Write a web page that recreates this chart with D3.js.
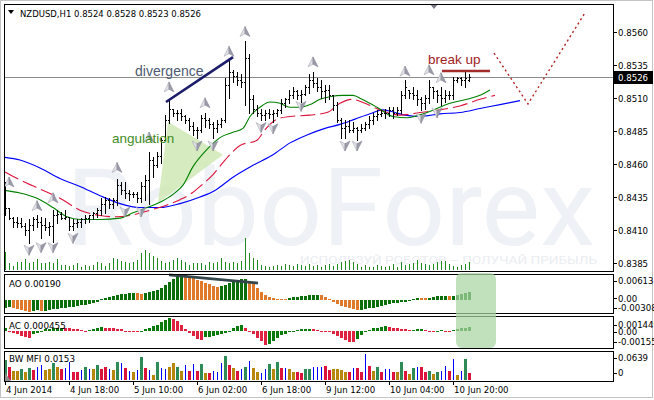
<!DOCTYPE html>
<html><head><meta charset="utf-8">
<script src="https://cdn.jsdelivr.net/npm/d3@7"></script>
<style>body{margin:0;background:#fff}svg{display:block}</style>
</head><body><svg id="chart" width="654" height="400"></svg>
<script>
// ---------------- DATA ----------------
const symbolTitle = "NZDUSD,H1  0.8524 0.8528 0.8523 0.8526";
const lastPrice = 0.8526;
const priceTicks = [0.8560,0.8535,0.8510,0.8485,0.8460,0.8435,0.8410,0.8385];
const timeLabels = ["4 Jun 2014","4 Jun 18:00","5 Jun 10:00","6 Jun 02:00","6 Jun 18:00","9 Jun 12:00","10 Jun 04:00","10 Jun 20:00"];
const timeLabelBars = [0,16,32,48,64,80,96,112];

const opens = [.8440,.8427,.8419,.8416,.8415,.8413,.8410,.8414,.8418,.8416,
 .8414,.8412,.8413,.8421,.8422,.8419,.8420,.8413,.8415,.8416,
 .8418,.8419,.8421,.8423,.8425,.8430,.8433,.8430,.8433,.8444,
 .8440,.8438,.8437,.8437,.8434,.8443,.8448,.8463,.8459,.8466,
 .8478,.8493,.8502,.8499,.8499,.8496,.8493,.8489,.8486,.8486,
 .8495,.8493,.8490,.8487,.8490,.8493,.8520,.8530,.8527,.8524,
 .8522,.8540,.8509,.8502,.8499,.8497,.8499,.8498,.8499,.8501,
 .8506,.8509,.8512,.8515,.8512,.8513,.8518,.8524,.8521,.8518,
 .8515,.8516,.8512,.8505,.8493,.8487,.8489,.8486,.8487,.8486,
 .8487,.8490,.8493,.8496,.8498,.8499,.8499,.8501,.8499,.8501,
 .8512,.8516,.8514,.8512,.8509,.8506,.8510,.8518,.8515,.8512,
 .8510,.8512,.8512,.8524,.8525,.8524,.8524];
const highs = [.8446,.8427,.8420,.8420,.8419,.8415,.8418,.8420,.8421,.8420,
 .8419,.8416,.8425,.8425,.8424,.8425,.8420,.8418,.8418,.8419,
 .8421,.8421,.8424,.8427,.8434,.8435,.8434,.8434,.8449,.8446,
 .8446,.8440,.8439,.8439,.8446,.8452,.8469,.8465,.8469,.8480,
 .8497,.8509,.8502,.8501,.8502,.8497,.8495,.8492,.8488,.8497,
 .8499,.8495,.8492,.8493,.8495,.8525,.8540,.8531,.8530,.8528,
 .8553,.8543,.8512,.8505,.8502,.8501,.8502,.8501,.8502,.8509,
 .8510,.8516,.8518,.8516,.8516,.8520,.8528,.8530,.8525,.8524,
 .8520,.8520,.8512,.8507,.8495,.8493,.8493,.8492,.8488,.8490,
 .8492,.8496,.8499,.8501,.8501,.8502,.8503,.8503,.8503,.8515,
 .8524,.8516,.8518,.8516,.8511,.8512,.8524,.8518,.8516,.8518,
 .8516,.8515,.8526,.8526,.8526,.8531,.8528];
const lows = [.8421,.8418,.8412,.8412,.8412,.8406,.8400,.8410,.8412,.8404,
 .8410,.8406,.8401,.8415,.8418,.8418,.8410,.8410,.8412,.8412,
 .8415,.8416,.8418,.8420,.8421,.8423,.8427,.8427,.8429,.8437,
 .8434,.8433,.8435,.8431,.8431,.8433,.8430,.8450,.8458,.8461,
 .8478,.8491,.8496,.8493,.8493,.8491,.8486,.8482,.8480,.8484,
 .8488,.8487,.8480,.8484,.8488,.8492,.8510,.8522,.8520,.8518,
 .8505,.8499,.8499,.8496,.8493,.8493,.8495,.8492,.8496,.8499,
 .8503,.8506,.8510,.8509,.8507,.8512,.8514,.8518,.8515,.8510,
 .8507,.8509,.8501,.8492,.8480,.8480,.8484,.8484,.8478,.8484,
 .8486,.8487,.8490,.8493,.8496,.8495,.8496,.8495,.8497,.8499,
 .8510,.8510,.8509,.8505,.8501,.8502,.8506,.8510,.8507,.8505,
 .8507,.8509,.8509,.8522,.8520,.8518,.8523];
const closes = [.8427,.8419,.8416,.8415,.8413,.8410,.8414,.8418,.8416,.8414,
 .8412,.8413,.8421,.8422,.8419,.8420,.8413,.8415,.8416,.8418,
 .8419,.8421,.8423,.8425,.8430,.8433,.8430,.8433,.8444,.8440,
 .8438,.8437,.8437,.8434,.8443,.8448,.8463,.8459,.8466,.8478,
 .8493,.8502,.8499,.8499,.8496,.8493,.8489,.8486,.8486,.8495,
 .8493,.8490,.8487,.8490,.8493,.8520,.8530,.8527,.8524,.8522,
 .8540,.8509,.8502,.8499,.8497,.8499,.8498,.8499,.8501,.8506,
 .8509,.8512,.8515,.8512,.8513,.8518,.8524,.8521,.8518,.8515,
 .8516,.8512,.8505,.8493,.8487,.8489,.8486,.8487,.8486,.8487,
 .8490,.8493,.8496,.8498,.8499,.8499,.8501,.8499,.8501,.8512,
 .8518,.8514,.8512,.8509,.8506,.8510,.8518,.8515,.8512,.8510,
 .8512,.8512,.8524,.8525,.8524,.8525,.8526];
const volumes = [1800,700,400,800,800,1100,700,800,1100,700,
 700,800,700,1100,500,500,400,500,700,300,
 500,400,500,800,700,400,700,1200,1100,900,
 800,700,800,1000,1700,2000,1700,1400,1200,900,
 700,800,1000,1200,1000,800,500,700,700,700,
 500,800,700,800,1200,800,700,800,700,900,
 3200,1700,1200,1000,500,400,300,400,500,400,
 600,500,400,600,500,400,600,400,500,300,
 500,600,400,600,800,900,1000,800,600,300,
 500,300,300,500,400,300,400,600,300,800,
 500,600,700,1000,700,600,500,600,800,900,
 900,600,400,300,500,600,800];

// Alligator lines: [bar index, price]
const jawBlue = [[0,.8465],[3.75,.8463],[8.75,.8457],[13.75,.8449],[18.75,.8443],[23.75,.8436],[28.75,.8430],[33.75,.8427],[38.75,.8427],[43.75,.8430],[48.75,.8435],[52.5,.8440],[57,.8450],[62,.8459],[67,.8467],[71.25,.8476],[75.5,.8482],[80,.8487],[83.75,.8490],[87.5,.8494],[91.25,.8498],[94.5,.8501],[97.5,.8499],[100,.8497],[103.75,.8496],[108.75,.8498],[113.75,.8499],[118.75,.8502],[123.75,.8505],[128.75,.8508]];
const teethRed = [[0,.8454],[3.75,.8448],[8.75,.8441],[13.75,.8434],[18.75,.8425],[23.75,.8421],[27.5,.8420],[31.25,.8421],[36.25,.8425],[40.5,.8429],[43.75,.8433],[46.25,.8437],[48.75,.8443],[52,.8452],[55,.8463],[58.75,.8474],[63,.8478],[65,.8486],[68,.8494],[71.25,.8496],[76.25,.8497],[80.5,.8499],[83.75,.8506],[86.75,.8509],[90,.8506],[93.75,.8501],[98.75,.8497],[103.75,.8499],[108.75,.8501],[113.75,.8504],[118.75,.8509],[122.5,.8512]];
const lipsGreen = [[0,.8440],[3.75,.8438],[8,.8434],[12,.8427],[15.5,.8420],[18.75,.8418],[23.75,.8418],[28.75,.8419],[32,.8423],[35.5,.8427],[38.75,.8431],[42,.8437],[44.5,.8444],[47,.8458],[50.5,.8471],[53.75,.8480],[57,.8484],[59.5,.8487],[61.25,.8496],[63.75,.8503],[66.25,.8507],[68.75,.8506],[71.25,.8503],[73.75,.8503],[76.25,.8505],[78.75,.8509],[81.25,.8511],[84.5,.8512],[87,.8512],[89.25,.8509],[93,.8503],[97,.8496],[100.5,.8495],[105.5,.8499],[111.25,.8506],[115.5,.8509],[118.75,.8512],[121.25,.8516]];

// Fractals: [bar index, icon price]
const fractalsUp = [[1,.8446],[8,.8428],[12,.8434],[28,.8457],[36,.8480],[41,.8518],[50,.8506],[56,.8545],[60,.8560],[77,.8537],[100,.8530],[106,.8531],[109,.8525]];
const fractalsDown = [[6,.8395],[9,.8397],[12,.8397],[17,.8404],[30,.8424],[34,.8424],[48,.8474],[52,.8474],[64,.8488],[67,.8487],[74,.8504],[85,.8474],[88,.8474],[104,.8495],[108,.8499]];

// Awesome Oscillator, Accelerator, BW MFI
const ao = [-0.00189,-0.00177,-0.00189,-0.00212,-0.00236,-0.00260,-0.00295,-0.00260,-0.00248,-0.00260,
 -0.00255,-0.00236,-0.00224,-0.00212,-0.00201,-0.00189,-0.00177,-0.00165,-0.00142,-0.00130,
 -0.00118,-0.00094,-0.00071,-0.00047,0.00024,0.00047,0.00071,0.00094,0.00118,0.00130,
 0.00142,0.00153,0.00165,0.00153,0.00142,0.00165,0.00189,0.00212,0.00236,0.00283,
 0.00354,0.00425,0.00496,0.00566,0.00602,0.00578,0.00543,0.00507,0.00472,0.00437,
 0.00401,0.00366,0.00330,0.00307,0.00330,0.00354,0.00389,0.00425,0.00460,0.00484,
 0.00496,0.00448,0.00378,0.00283,0.00189,0.00106,0.00059,0.00035,0.00028,0.00024,
 0.00019,0.00035,0.00059,0.00071,0.00083,0.00094,0.00106,0.00118,0.00123,0.00106,
 0.00071,0.00024,-0.00047,-0.00094,-0.00142,-0.00177,-0.00201,-0.00224,-0.00236,-0.00231,
 -0.00212,-0.00201,-0.00189,-0.00165,-0.00142,-0.00118,-0.00094,-0.00083,-0.00071,-0.00059,
 -0.00047,-0.00024,0.00024,0.00047,0.00042,0.00035,0.00047,0.00071,0.00083,0.00094,
 0.00101,0.00083,0.00094,0.00118,0.00142,0.00165,0.00190];
const ac = [0.00037,-0.00009,-0.00019,-0.00028,-0.00047,-0.00056,-0.00061,-0.00028,-0.00014,0.00009,
 0.00019,0.00023,0.00028,0.00033,0.00037,0.00033,0.00028,0.00023,0.00019,0.00014,
 0.00009,0.00014,0.00023,0.00033,0.00042,0.00037,0.00033,0.00028,0.00023,0.00019,
 0.00009,0.00005,-0.00005,-0.00009,0.00005,0.00019,0.00028,0.00047,0.00065,0.00084,
 0.00103,0.00122,0.00117,0.00094,0.00056,0.00019,-0.00014,-0.00047,-0.00075,-0.00084,
 -0.00056,-0.00051,-0.00042,-0.00037,-0.00028,-0.00019,0.00009,0.00028,0.00047,0.00056,
 0.00037,0.00009,-0.00028,-0.00065,-0.00094,-0.00131,-0.00122,-0.00094,-0.00065,-0.00037,
 -0.00023,-0.00009,0.00009,0.00014,0.00019,0.00021,0.00022,0.00019,0.00014,0.00007,
 -0.00005,-0.00009,-0.00023,-0.00042,-0.00065,-0.00084,-0.00098,-0.00101,-0.00075,-0.00037,
 -0.00009,0.00014,0.00028,0.00037,0.00042,0.00047,0.00042,0.00037,0.00028,0.00023,
 0.00019,0.00014,0.00017,0.00019,0.00021,0.00014,0.00007,0.00005,0.00009,0.00014,
 0.00009,-0.00005,0.00014,0.00023,0.00030,0.00037,0.000455];
const mfi = [0.0467,0.0295,0.0197,0.0197,0.0246,0.0172,0.0271,0.0221,0.0295,0.0344,
 0.0221,0.0246,0.0394,0.0295,0.0246,0.0271,0.0418,0.0172,0.0172,0.0221,
 0.0295,0.0246,0.0246,0.0344,0.0246,0.0295,0.0246,0.0221,0.0418,0.0394,
 0.0271,0.0197,0.0172,0.0221,0.0541,0.0271,0.0221,0.0098,0.0418,0.0271,
 0.0246,0.0295,0.0394,0.0295,0.0197,0.0344,0.0197,0.0369,0.0197,0.0369,
 0.0148,0.0148,0.0197,0.0172,0.0394,0.0566,0.0344,0.0271,0.0197,0.0246,
 0.0295,0.0443,0.0271,0.0172,0.0148,0.0246,0.0369,0.0246,0.0418,0.0271,
 0.0271,0.0246,0.0172,0.0172,0.0148,0.0246,0.0246,0.0295,0.0295,0.0295,
 0.0320,0.0221,0.0246,0.0246,0.0221,0.0172,0.0172,0.0271,0.0271,0.0172,
 0.0615,0.0320,0.0197,0.0295,0.0172,0.0246,0.0246,0.0172,0.0172,0.0418,
 0.0197,0.0123,0.0271,0.0295,0.0295,0.0172,0.0197,0.0123,0.0172,0.0197,
 0.0320,0.0197,0.0492,0.0098,0.0197,0.0492,0.0153];
// BW MFI zone of each bar: G green, F fade, K fake, S squat
const mfiZone = "GSFFGFGSKKFFGFSKKSSKGKFGSSKFGKSKFKGSKFGKKFFGFKSKSGFSKKKGSFSKGKFFKKGFGSKFFSSGGKKKSSFFFFSKSSKSFGSKKSFGSFGKSSGFGKKSKFKGS";

// Annotations (bar index, price)
const divergenceLine = [[40.25,.8507],[57,.8541]];
const angulationArea = [[40.75,.8492],[54.5,.8467],[38.25,.84305]];
const breakUpLine = [[109.25,.85305],[121.25,.85305]];
const forecastPath = [[122.25,.8544],[130.75,.85055],[145,.85745]];
const aoDivergence = [[41,0.0059],[63.25,0.0040]];
const highlightBars = [112.75,122.75];

// ---------------- DRAW ----------------
const svg = d3.select("#chart");
const X0 = 4, X1 = 613;
const MAIN = [4,271], AOP = [274,313], ACP = [316,348], MFIP = [351,381];
const FONT = "DejaVu Sans, sans-serif";
const ARIAL = "Liberation Sans, Arial, sans-serif";

const x = d3.scaleLinear().domain([0,116]).range([5,469]);
const y = d3.scaleLinear().domain([0.8385,0.8560]).range([263,32]);
const yAO = d3.scaleLinear().domain([-0.00308,0.00613]).range([313,274]);
const yAC = d3.scaleLinear().domain([-0.00155,0.001449]).range([348,316]);
const yMFI = d3.scaleLinear().domain([0,0.0639]).range([379,353]);
const yVol = d3.scaleLinear().domain([0,3500]).range([270,235]);
const px = v => Math.round(v) + 0.5;

svg.append("rect").attr("x",0).attr("y",0).attr("width",654).attr("height",400).attr("fill","#fff");
svg.append("rect").attr("x",0.5).attr("y",0.5).attr("width",652).attr("height",397).attr("fill","none").attr("stroke","#c4c4c4");

const defs = svg.append("defs");
defs.append("clipPath").attr("id","mclip").append("rect").attr("x",X0).attr("y",MAIN[0]).attr("width",X1-X0).attr("height",MAIN[1]-MAIN[0]);

const main = svg.append("g").attr("clip-path","url(#mclip)");
// watermark
main.append("text").attr("x",66).attr("y",245).attr("font-family","Roboto, "+ARIAL).attr("font-size",107)
  .attr("fill","#eef1f5").attr("textLength",529).attr("lengthAdjust","spacingAndGlyphs").text("RoboForex");
main.append("text").attr("x",300).attr("y",264).attr("font-family","Roboto, "+ARIAL).attr("font-size",10.5)
  .attr("fill","#eaedf1").attr("textLength",297).attr("lengthAdjust","spacingAndGlyphs").text("ИСПОЛЬЗУЙ РОБОТОВ – ПОЛУЧАЙ ПРИБЫЛЬ");

// volumes
main.append("g").selectAll("line").data(volumes).join("line")
  .attr("x1",(d,i)=>px(x(i))).attr("x2",(d,i)=>px(x(i)))
  .attr("y1",yVol(0)).attr("y2",d=>yVol(d)).attr("stroke","#208a20").attr("stroke-width",1);

// angulation area
main.append("path").attr("d", d3.line().x(d=>x(d[0])).y(d=>y(d[1]))(angulationArea)+"Z")
  .attr("fill","#cfe8b4").attr("opacity",0.85);

// current price line
main.append("line").attr("x1",X0).attr("x2",X1).attr("y1",px(y(lastPrice))).attr("y2",px(y(lastPrice)))
  .attr("stroke","#8c8c8c").attr("stroke-width",1);

// alligator
const lineGen = d3.line().x(d=>x(d[0])).y(d=>y(d[1])).curve(d3.curveMonotoneX);
main.append("path").attr("d",lineGen(jawBlue)).attr("fill","none").attr("stroke","#0000ff").attr("stroke-width",1.1);
main.append("path").attr("d",lineGen(teethRed)).attr("fill","none").attr("stroke","#dc143c").attr("stroke-width",1.1).attr("stroke-dasharray","15,5");
main.append("path").attr("d",lineGen(lipsGreen)).attr("fill","none").attr("stroke","#008000").attr("stroke-width",1.1);

// OHLC bars
const bars = main.append("g").attr("stroke","#000").attr("stroke-width",1).attr("shape-rendering","crispEdges");
highs.forEach((h,i)=>{
  const cx = px(x(i));
  bars.append("line").attr("x1",cx).attr("x2",cx).attr("y1",Math.round(y(h))).attr("y2",Math.round(y(lows[i]))+1);
  bars.append("line").attr("x1",cx-1.5).attr("x2",cx).attr("y1",px(y(opens[i]))).attr("y2",px(y(opens[i])));
  bars.append("line").attr("x1",cx).attr("x2",cx+1.5).attr("y1",px(y(closes[i]))).attr("y2",px(y(closes[i])));
});

// fractals
function fractal(g, d, up){
  const s = up ? 1 : -1;
  const gg = g.append("g").attr("transform",`translate(${x(d[0])},${y(d[1])})`);
  gg.append("path").attr("d",`M0,${-5.5*s} L${-5},${4.5*s} L0,${1.8*s} Z`).attr("fill","#e2e2e8").attr("stroke","#a8a8b2").attr("stroke-width",0.6);
  gg.append("path").attr("d",`M0,${-5.5*s} L5,${4.5*s} L0,${1.8*s} Z`).attr("fill","#9a9aa8").attr("stroke","#8a8a98").attr("stroke-width",0.6);
}
const fg = main.append("g");
fractalsUp.forEach(d=>fractal(fg,d,true));
fractalsDown.forEach(d=>fractal(fg,d,false));

// annotations
main.append("line").attr("x1",x(divergenceLine[0][0])).attr("y1",y(divergenceLine[0][1]))
  .attr("x2",x(divergenceLine[1][0])).attr("y2",y(divergenceLine[1][1]))
  .attr("stroke","#1c1c6a").attr("stroke-width",2.6);
main.append("text").attr("x",x(32.5)).attr("y",y(.85267)).attr("font-family",ARIAL).attr("font-size",14)
  .attr("fill","#4e5a72").text("divergence");
main.append("text").attr("x",x(26.75)).attr("y",y(.8476)).attr("font-family",ARIAL).attr("font-size",13.5)
  .attr("fill","#3f8c1f").text("angulation");
main.append("line").attr("x1",x(breakUpLine[0][0])).attr("y1",y(breakUpLine[0][1]))
  .attr("x2",x(breakUpLine[1][0])).attr("y2",y(breakUpLine[1][1]))
  .attr("stroke","#a52a2a").attr("stroke-width",2.6);
main.append("text").attr("x",x(105.75)).attr("y",y(.85358)).attr("font-family",ARIAL).attr("font-size",13.5)
  .attr("fill","#a01c24").text("break up");
main.append("path").attr("d",d3.line().x(d=>x(d[0])).y(d=>y(d[1]))(forecastPath))
  .attr("fill","none").attr("stroke","#b22222").attr("stroke-width",1.4).attr("stroke-dasharray","2,3");

// title
svg.append("path").attr("d","M8,10 L14,10 L11,14 Z").attr("fill","#000");
svg.append("text").attr("x",20).attr("y",16.5).attr("font-family",FONT).attr("font-size",9)
  .attr("textLength",181).attr("lengthAdjust","spacingAndGlyphs").attr("fill","#000").text(symbolTitle);
svg.append("path").attr("d","M430,4 L438,4 L434,9 Z").attr("fill","#7a7a88");

// AO panel
const aoG = svg.append("g").attr("shape-rendering","crispEdges");
ao.forEach((v,i)=>{
  const up = i===0 ? true : v > ao[i-1];
  const y0 = yAO(0), y1 = yAO(v);
  aoG.append("rect").attr("x",Math.round(x(i))-1).attr("width",3)
    .attr("y",Math.min(y0,y1)).attr("height",Math.max(1,Math.abs(y1-y0)))
    .attr("fill", up ? "#0a6e0a" : "#e0792a");
});
svg.append("line").attr("x1",x(aoDivergence[0][0])).attr("y1",yAO(aoDivergence[0][1]))
  .attr("x2",x(aoDivergence[1][0])).attr("y2",yAO(aoDivergence[1][1]))
  .attr("stroke","#34464c").attr("stroke-width",2.8);

// AC panel
const acG = svg.append("g").attr("shape-rendering","crispEdges");
ac.forEach((v,i)=>{
  const up = i===0 ? true : v > ac[i-1];
  const y0 = yAC(0), y1 = yAC(v);
  acG.append("rect").attr("x",Math.round(x(i))-1).attr("width",3)
    .attr("y",Math.min(y0,y1)).attr("height",Math.max(1,Math.abs(y1-y0)))
    .attr("fill", up ? "#0a7a0a" : "#e0213f");
});

// MFI panel
const zoneColor = {G:"#2e8b57",F:"#b8860b",K:"#0000ff",S:"#dc143c"};
const mG = svg.append("g").attr("shape-rendering","crispEdges");
mfi.forEach((v,i)=>{
  const z = mfiZone[i] || "G";
  const w = z==="K" ? 1 : 3;
  const xx = z==="K" ? Math.round(x(i)) : Math.round(x(i))-1;
  mG.append("rect").attr("x",xx).attr("width",w).attr("y",yMFI(v)).attr("height",yMFI(0)-yMFI(v)+1).attr("fill",zoneColor[z]);
});
svg.append("path").attr("d","M5,381 L5,373 L11,381 Z").attr("fill","#8c8c8c");

// panel borders
[MAIN,AOP,ACP,MFIP].forEach(p=>{
  svg.append("rect").attr("x",X0+0.5).attr("y",p[0]+0.5).attr("width",X1-X0).attr("height",p[1]-p[0])
    .attr("fill","none").attr("stroke","#000").attr("stroke-width",1).attr("shape-rendering","crispEdges");
});

// highlight on AO/AC
svg.append("rect").attr("x",x(highlightBars[0])).attr("y",AOP[0]-1)
  .attr("width",x(highlightBars[1])-x(highlightBars[0])).attr("height",ACP[1]-AOP[0]+1)
  .attr("rx",6).attr("fill","#a9d6a3").attr("opacity",0.72);

// panel labels
svg.append("text").attr("x",9).attr("y",287).attr("font-family",FONT).attr("font-size",8.8).text("AO 0.00190");
svg.append("text").attr("x",9).attr("y",328.5).attr("font-family",FONT).attr("font-size",8.8).text("AC 0.000455");
svg.append("text").attr("x",9).attr("y",362).attr("font-family",FONT).attr("font-size",8.8).text("BW MFI 0.0153");

// price axis
const ax = svg.append("g").attr("font-family",FONT).attr("font-size",8.6);
priceTicks.forEach(p=>{
  const yy = Math.round(y(p));
  ax.append("line").attr("x1",X1).attr("x2",X1+4).attr("y1",yy+0.5).attr("y2",yy+0.5).attr("stroke","#000");
  ax.append("text").attr("x",618).attr("y",yy+3.5).text(p.toFixed(4));
});
const lp = Math.round(y(lastPrice));
ax.append("rect").attr("x",X1).attr("y",lp-6).attr("width",40).attr("height",13).attr("fill","#000");
ax.append("text").attr("x",618).attr("y",lp+3.5).attr("fill","#fff").text(lastPrice.toFixed(4));

// sub-panel axis labels
const sub = [[yAO(0.00613)+10,"0.00613"],[yAO(0)+2,"0.00"],[yAO(-0.00308)-2,"-0.00308"],
             [yAC(0.001449)+12,"0.001449"],[yAC(0)+4,"0.00"],[yAC(-0.00155)-3,"-0.00155"],
             [yMFI(0.0639)+8,"0.0639"],[yMFI(0)-3,"0"]];
sub.forEach(s=>{
  ax.append("line").attr("x1",X1).attr("x2",X1+4).attr("y1",Math.round(s[0]-3.5)+0.5).attr("y2",Math.round(s[0]-3.5)+0.5).attr("stroke","#000");
  ax.append("text").attr("x",618).attr("y",s[0]).text(s[1]);
});

// time axis
const tx = svg.append("g").attr("font-family",FONT).attr("font-size",8.6);
timeLabelBars.forEach((b,k)=>{
  const xx = px(x(b));
  tx.append("line").attr("x1",xx).attr("x2",xx).attr("y1",MFIP[1]).attr("y2",MFIP[1]+4).attr("stroke","#000");
  tx.append("text").attr("x",xx+0.5).attr("y",393).text(timeLabels[k]);
});
</script></body></html>
